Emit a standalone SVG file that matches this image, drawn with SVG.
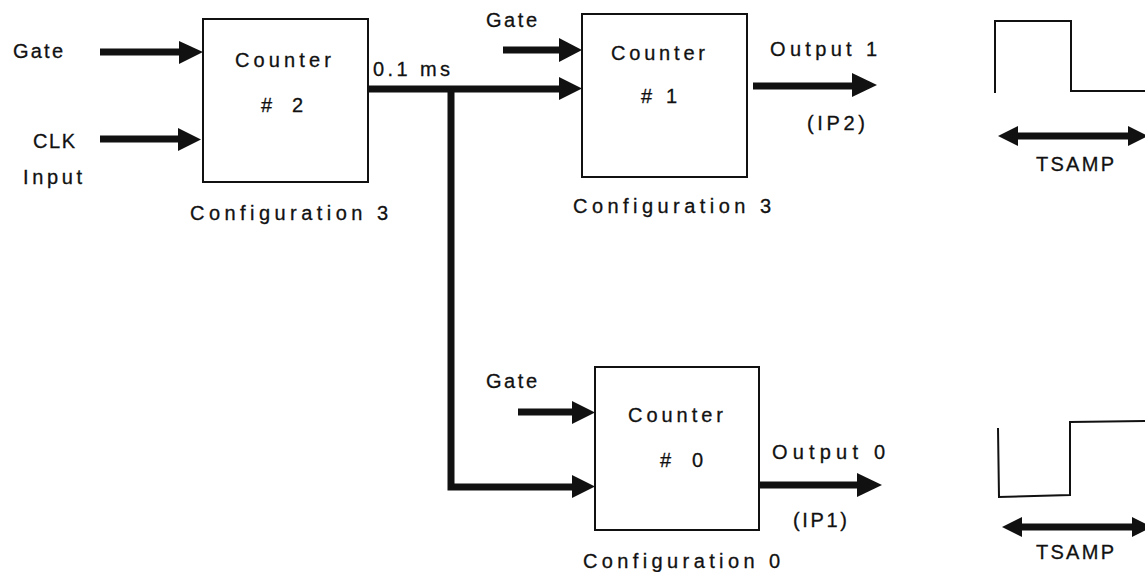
<svg xmlns="http://www.w3.org/2000/svg" width="1145" height="572" viewBox="0 0 1145 572">
<style>
text{font-family:"Liberation Sans",Arial,sans-serif;font-size:20px;fill:#111;stroke:#111;stroke-width:0.3;}
.box{fill:none;stroke:#111;stroke-width:2;}
.wire{fill:none;stroke:#111;stroke-width:7;}
.thin{fill:none;stroke:#111;stroke-width:2;}
.head{fill:#111;}
</style>
<rect width="1145" height="572" fill="#fff"/>
<g id="connectors">
<line class="wire" x1="100" y1="52" x2="181" y2="52"/>
<polygon class="head" points="179,41 203,52 179,64"/>
<line class="wire" x1="100" y1="139" x2="180" y2="139"/>
<polygon class="head" points="178,128 201,139.5 178,151"/>
<line class="wire" x1="503" y1="50" x2="561" y2="50"/>
<polygon class="head" points="559,38 582,50 559,62"/>
<path class="wire" d="M368,89 H561 M451,89 V487 H574" stroke-linejoin="miter"/>
<polygon class="head" points="559,77 582,88.5 559,100"/>
<polygon class="head" points="572,475 595,486.5 572,498"/>
<line class="wire" x1="518" y1="412" x2="574" y2="412"/>
<polygon class="head" points="572,401 595,412.5 572,424"/>
<line class="wire" x1="753" y1="86" x2="854" y2="86"/>
<polygon class="head" points="852,73 877,85 852,97"/>
<line class="wire" x1="759" y1="485" x2="859" y2="485"/>
<polygon class="head" points="857,473 882,485 857,497"/>
</g>
<g id="counter2">
<rect class="box" x="203" y="19" width="165" height="163"/>
<text x="235" y="67" textLength="96" lengthAdjust="spacing">Counter</text>
<text x="261" y="112" textLength="42" lengthAdjust="spacing"># 2</text>
<text x="190" y="220" textLength="198" lengthAdjust="spacing">Configuration 3</text>
</g>
<g id="inputs2">
<text x="13" y="58" textLength="50" lengthAdjust="spacing">Gate</text>
<text x="33" y="148" textLength="42" lengthAdjust="spacing">CLK</text>
<text x="23" y="184" textLength="59" lengthAdjust="spacing">Input</text>
<text x="373" y="76" textLength="77" lengthAdjust="spacing">0.1 ms</text>
</g>
<g id="counter1">
<rect class="box" x="582" y="14" width="165" height="163"/>
<text x="611" y="60" textLength="94" lengthAdjust="spacing">Counter</text>
<text x="641" y="103" textLength="36" lengthAdjust="spacing"># 1</text>
<text x="573" y="213" textLength="198" lengthAdjust="spacing">Configuration 3</text>
<text x="486" y="27" textLength="51" lengthAdjust="spacing">Gate</text>
<text x="770" y="56" textLength="107" lengthAdjust="spacing">Output 1</text>
<text x="807" y="130" textLength="58" lengthAdjust="spacing">(IP2)</text>
</g>
<g id="counter0">
<rect class="box" x="595" y="367" width="164" height="163"/>
<text x="628" y="422" textLength="95" lengthAdjust="spacing">Counter</text>
<text x="660" y="467" textLength="43" lengthAdjust="spacing"># 0</text>
<text x="583" y="568" textLength="197" lengthAdjust="spacing">Configuration 0</text>
<text x="486" y="388" textLength="51" lengthAdjust="spacing">Gate</text>
<text x="772" y="459" textLength="113" lengthAdjust="spacing">Output 0</text>
<text x="793" y="527" textLength="54" lengthAdjust="spacing">(IP1)</text>
</g>
<g id="wave1">
<polyline class="thin" points="995,93 995,21 1071,21 1071,91 1145,91"/>
<line class="wire" x1="1015" y1="136" x2="1132" y2="136" stroke-width="6"/>
<polygon class="head" points="998,136 1018,126 1018,146"/>
<polygon class="head" points="1148,136 1128,126 1128,146"/>
<text x="1036" y="171" textLength="78" lengthAdjust="spacing">TSAMP</text>
</g>
<g id="wave0">
<polyline class="thin" points="998,428 999,497 1070,495 1070,422 1145,421"/>
<line class="wire" x1="1019" y1="527" x2="1136" y2="527" stroke-width="6"/>
<polygon class="head" points="1002,527 1022,517 1022,537"/>
<polygon class="head" points="1152,527 1132,517 1132,537"/>
<text x="1036" y="559" textLength="78" lengthAdjust="spacing">TSAMP</text>
</g>
</svg>
